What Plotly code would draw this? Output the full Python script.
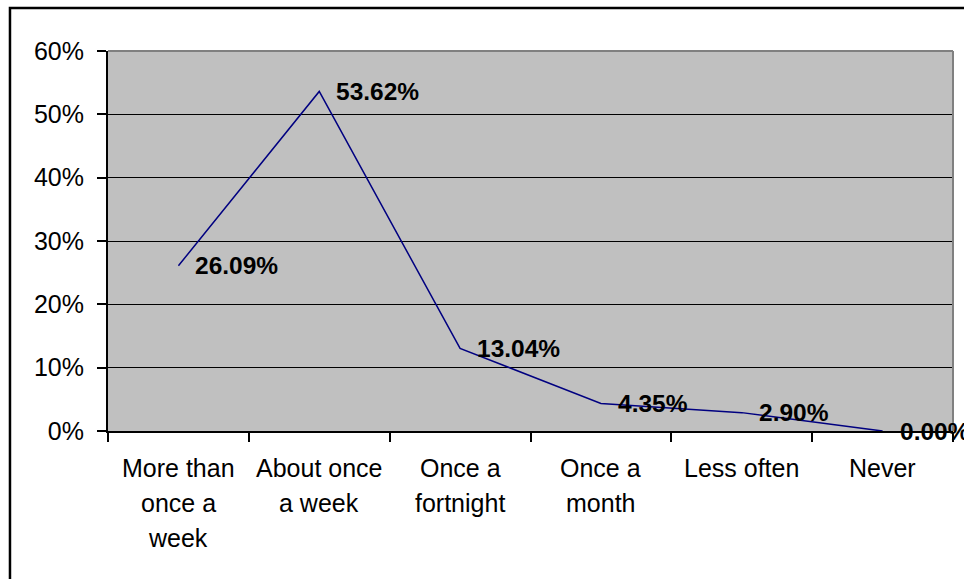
import plotly.graph_objects as go

# Survey response frequencies
categories = ["More than once a week", "About once a week", "Once a fortnight",
              "Once a month", "Less often", "Never"]
category_lines = [["More than", "once a", "week"], ["About once", "a week"],
                  ["Once a", "fortnight"], ["Once a", "month"], ["Less often"], ["Never"]]
shares = [26.09, 53.62, 13.04, 4.35, 2.90, 0.00]
y_tick_vals = [0, 10, 20, 30, 40, 50, 60]
y_tick_text = ["0%", "10%", "20%", "30%", "40%", "50%", "60%"]

FONT = "Arial, Liberation Sans, sans-serif"
LABEL_SIZE = 24
CAT_SIZE = 25
LINE_GAP = 35

fig = go.Figure()
fig.add_trace(go.Scatter(
    x=categories, y=shares, mode="lines",
    line=dict(color="#000080", width=1.5), hoverinfo="skip", showlegend=False,
))

# value labels to the right of each point
for cat, v in zip(categories, shares):
    fig.add_annotation(
        x=cat, y=v, xref="x", yref="y", text=f"<b>{v:.2f}%</b>", showarrow=False,
        xanchor="left", yanchor="middle", xshift=15,
        font=dict(family=FONT, size=24.5, color="black"),
    )

# category labels, one line per annotation for wider line spacing
for cat, lines in zip(categories, category_lines):
    for k, line in enumerate(lines):
        fig.add_annotation(
            x=cat, y=0, xref="x", yref="paper", text=line, showarrow=False,
            xanchor="center", yanchor="middle", yshift=-37 - k * LINE_GAP,
            font=dict(family=FONT, size=CAT_SIZE, color="black"),
        )

# outer chart frame
fig.add_shape(type="rect", xref="paper", yref="paper",
              x0=-0.116, x1=1.2, y0=-1.0, y1=1.113,
              line=dict(color="black", width=2.5), fillcolor="rgba(0,0,0,0)", layer="above")
# plot-area border on top and right
fig.add_shape(type="line", xref="paper", yref="paper", x0=0, x1=1, y0=1, y1=1,
              line=dict(color="#808080", width=2), layer="above")
fig.add_shape(type="line", xref="paper", yref="paper", x0=1, x1=1, y0=0, y1=1,
              line=dict(color="#808080", width=2), layer="above")

fig.update_layout(
    width=964, height=579,
    margin=dict(l=108, r=11, t=51, b=148),
    paper_bgcolor="white", plot_bgcolor="#C0C0C0",
    font=dict(family=FONT, size=LABEL_SIZE, color="black"),
    xaxis=dict(
        type="category", categoryorder="array", categoryarray=categories,
        range=[-0.5, 5.5], showgrid=False, zeroline=False,
        showline=True, linecolor="black", linewidth=2,
        ticks="outside", ticklen=9, tickcolor="black", tickwidth=2,
        tickson="boundaries", showticklabels=False,
    ),
    yaxis=dict(
        tickmode="array", tickvals=y_tick_vals, ticktext=y_tick_text,
        range=[0, 60], showgrid=True, gridcolor="black", gridwidth=1.2,
        zeroline=False, showline=True, linecolor="black", linewidth=2,
        ticks="outside", ticklen=9, tickcolor="black", tickwidth=2,
        tickfont=dict(family=FONT, size=CAT_SIZE, color="black"),
        ticklabelstandoff=8,
    ),
)

fig.write_html("out.html")
